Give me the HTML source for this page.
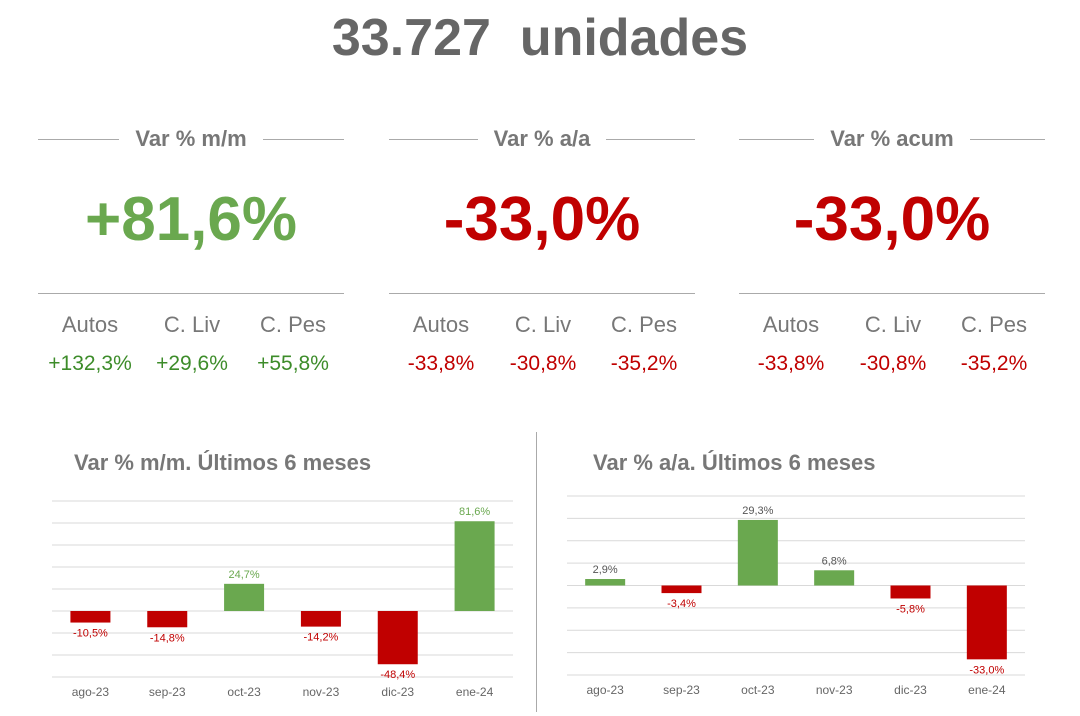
<!DOCTYPE html>
<html><head><meta charset="utf-8"><style>
body{margin:0;width:1080px;height:716px;background:#fff;font-family:"Liberation Sans",sans-serif;position:relative;overflow:hidden}
.abs{position:absolute}
.title{left:0;width:1080px;top:8px;text-align:center;font-size:52px;font-weight:bold;color:#666}
.panel{position:absolute;top:120px;width:306px;height:270px}
.ph{position:absolute;top:6px;left:0;width:306px;text-align:center;font-size:22px;font-weight:bold;color:#777}
.ph span{background:#fff;padding:0 16px}
.ph:before{content:"";position:absolute;left:0;right:0;top:13px;border-top:1px solid #aaa;z-index:-1}
.big{position:absolute;top:64px;left:0;width:306px;text-align:center;font-size:62px;font-weight:bold}
.sep{position:absolute;top:173px;left:0;width:306px;border-top:1px solid #aaa}
.lab,.val{position:absolute;width:100px;text-align:center;font-size:22px}
.lab{top:192px;color:#777}
.val{top:232px;font-size:21px}
.g{color:#6aa84f}.gd{color:#3d8c2a}.r{color:#c00000}
.ct{position:absolute;top:450px;font-size:22px;font-weight:bold;color:#777}
</style></head><body>
<div class="abs title">33.727&nbsp; unidades</div>

<div class="panel" style="left:38px">
<div class="ph"><span>Var % m/m</span></div>
<div class="big g">+81,6%</div>
<div class="sep"></div>
<div class="lab" style="left:2px">Autos</div>
<div class="lab" style="left:104px">C. Liv</div>
<div class="lab" style="left:205px">C. Pes</div>
<div class="val gd" style="left:2px">+132,3%</div>
<div class="val gd" style="left:104px">+29,6%</div>
<div class="val gd" style="left:205px">+55,8%</div>
</div>

<div class="panel" style="left:389px">
<div class="ph"><span>Var % a/a</span></div>
<div class="big r">-33,0%</div>
<div class="sep"></div>
<div class="lab" style="left:2px">Autos</div>
<div class="lab" style="left:104px">C. Liv</div>
<div class="lab" style="left:205px">C. Pes</div>
<div class="val r" style="left:2px">-33,8%</div>
<div class="val r" style="left:104px">-30,8%</div>
<div class="val r" style="left:205px">-35,2%</div>
</div>

<div class="panel" style="left:739px">
<div class="ph"><span>Var % acum</span></div>
<div class="big r">-33,0%</div>
<div class="sep"></div>
<div class="lab" style="left:2px">Autos</div>
<div class="lab" style="left:104px">C. Liv</div>
<div class="lab" style="left:205px">C. Pes</div>
<div class="val r" style="left:2px">-33,8%</div>
<div class="val r" style="left:104px">-30,8%</div>
<div class="val r" style="left:205px">-35,2%</div>
</div>

<div class="ct" style="left:74px">Var % m/m. Últimos 6 meses</div>
<div class="ct" style="left:593px">Var % a/a. Últimos 6 meses</div>
<div class="abs" style="left:536px;top:432px;width:1px;height:280px;background:#aaa"></div>

<svg class="abs" style="left:0;top:0" width="1080" height="716">
<g id="c1"></g>
<g id="c2"></g>
</svg>
<script>
const categories = ["ago-23","sep-23","oct-23","nov-23","dic-23","ene-24"];
const mmValues = [-10.5,-14.8,24.7,-14.2,-48.4,81.6];
const aaValues = [2.9,-3.4,29.3,6.8,-5.8,-33.0];
const mmTicks = [100,80,60,40,20,0,-20,-40,-60];
const aaTicks = [40,30,20,10,0,-10,-20,-30,-40];
const NS="http://www.w3.org/2000/svg";
function mk(t,a,p){const e=document.createElementNS(NS,t);for(const k in a)e.setAttribute(k,a[k]);p.appendChild(e);return e;}
function fmt(v){return v.toFixed(1).replace('.',',')+'%';}
function draw(g,vals,ticks,x0,x1,yTop,yBot,prefix){
  const max=ticks[0],min=ticks[ticks.length-1];
  const y=v=>yTop+(max-v)/(max-min)*(yBot-yTop);
  const bw=(x1-x0)/categories.length;
  const x=i=>x0+bw*(i+0.5);
  ticks.forEach(t=>{
    const l=mk('line',{x1:x0,x2:x1,y1:y(t),y2:y(t),stroke:'#d9d9d9','stroke-width':1},g);
    
    
  });
  vals.forEach((v,i)=>{
    const pos=v>=0, top=pos?y(v):y(0), h=Math.abs(y(v)-y(0));
    const r=mk('rect',{x:x(i)-20,y:top,width:40,height:Math.max(h,1),fill:pos?'#6aa84f':'#c00000'},g);
    
    
    const t=mk('text',{x:x(i),y:pos?y(v)-6:y(v)+14,'text-anchor':'middle','font-size':11,fill:pos?(prefix==='mm'?'#6aa84f':'#555'):'#c00000'},g);
    t.textContent=fmt(v);
    
    
    const c=mk('text',{x:x(i),y:yBot+19,'text-anchor':'middle','font-size':12,fill:'#666'},g);
    c.textContent=categories[i];
    
    
  });
}
draw(document.getElementById('c1'),mmValues,mmTicks,52,513,501,677,'mm');
draw(document.getElementById('c2'),aaValues,aaTicks,567,1025,496,675,'aa');
</script>
</body></html>
